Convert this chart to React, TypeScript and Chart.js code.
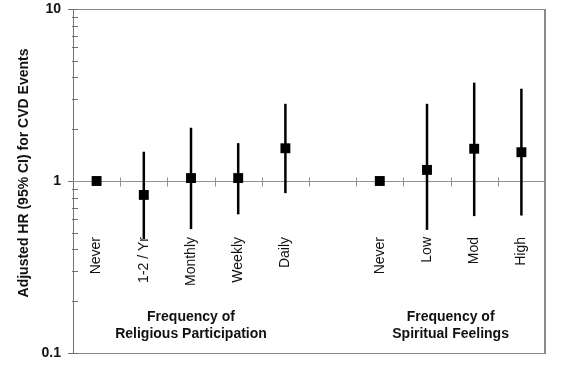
import React, { useEffect, useRef } from "react";
import { Chart, registerables } from "chart.js";

Chart.register(...registerables);

const categories = ["Never", "1-2 / Yr", "Monthly", "Weekly", "Daily", "", "Never", "Low", "Mod", "High"];
const hazardRatio = [1.0, 0.83, 1.04, 1.04, 1.55, null, 1.0, 1.16, 1.54, 1.47];
const ciLow = [null, 0.46, 0.525, 0.64, 0.85, null, null, 0.52, 0.625, 0.63];
const ciHigh = [null, 1.48, 2.04, 1.66, 2.81, null, null, 2.81, 3.73, 3.44];
const majorTicks = [0.1, 1, 10];
const groupLabels = [
  ["Frequency of", "Religious Participation"],
  ["Frequency of", "Spiritual Feelings"],
];
const groupCenters = [2, 7.5];
const yTitle = "Adjusted HR (95% CI) for CVD Events";
const referenceValue = 1;

const FONT = "'Liberation Sans', Arial, sans-serif";

const decorPlugin = {
  id: "decor",
  beforeDatasetsDraw(chart: any) {
    const { ctx, chartArea } = chart;
    const x = chart.scales.x;
    const y = chart.scales.y;
    const { left, right, top, bottom } = chartArea;
    ctx.save();
    // frame
    ctx.strokeStyle = "#8a8a8a";
    ctx.lineWidth = 1;
    ctx.beginPath();
    ctx.moveTo(left, top + 0.5);
    ctx.lineTo(right, top + 0.5);
    ctx.moveTo(left, bottom + 0.5);
    ctx.lineTo(right, bottom + 0.5);
    ctx.stroke();
    ctx.lineWidth = 2;
    ctx.beginPath();
    ctx.moveTo(right, top);
    ctx.lineTo(right, bottom + 1);
    ctx.stroke();
    // left axis
    ctx.strokeStyle = "#707070";
    ctx.lineWidth = 1;
    ctx.beginPath();
    ctx.moveTo(left + 0.5, top);
    ctx.lineTo(left + 0.5, bottom + 1);
    ctx.stroke();
    // y ticks (major + minor)
    for (let d = 0.1; d < 10; d *= 10) {
      for (let m = 1; m <= 10; m++) {
        const v = d * m;
        const py = Math.round(y.getPixelForValue(v)) + 0.5;
        const isMajor = majorTicks.some((t) => Math.abs(t - v) < 1e-9);
        ctx.beginPath();
        ctx.moveTo(left - (isMajor ? 5 : 1), py);
        ctx.lineTo(left + 5, py);
        ctx.stroke();
      }
    }
    // reference line
    const ry = Math.round(y.getPixelForValue(referenceValue)) + 0.5;
    ctx.strokeStyle = "#909090";
    ctx.beginPath();
    ctx.moveTo(left, ry);
    ctx.lineTo(right, ry);
    ctx.stroke();
    // tick marks on reference line at category boundaries
    for (let i = 0; i < categories.length - 1; i++) {
      const bx = Math.round((x.getPixelForValue(i) + x.getPixelForValue(i + 1)) / 2) + 0.5;
      ctx.beginPath();
      ctx.moveTo(bx, ry - 4);
      ctx.lineTo(bx, ry + 5);
      ctx.stroke();
    }
    // error bars
    ctx.strokeStyle = "#000";
    ctx.lineWidth = 2.5;
    for (let i = 0; i < categories.length; i++) {
      const lo = ciLow[i];
      const hi = ciHigh[i];
      if (lo == null || hi == null) continue;
      const px = x.getPixelForValue(i);
      ctx.beginPath();
      ctx.moveTo(px, y.getPixelForValue(lo));
      ctx.lineTo(px, y.getPixelForValue(hi));
      ctx.stroke();
    }
    ctx.restore();
  },
  afterDraw(chart: any) {
    const { ctx, chartArea } = chart;
    const x = chart.scales.x;
    ctx.save();
    ctx.fillStyle = "#111";
    // category labels
    ctx.font = `14px ${FONT}`;
    categories.forEach((c, i) => {
      if (!c) return;
      const px = x.getPixelForValue(i);
      ctx.save();
      ctx.translate(px, chartArea.top + 228);
      ctx.rotate(-Math.PI / 2);
      ctx.textAlign = "right";
      ctx.textBaseline = "middle";
      ctx.fillText(c, 0, 0);
      ctx.restore();
    });
    // group labels
    ctx.font = `bold 14px ${FONT}`;
    ctx.textAlign = "center";
    ctx.textBaseline = "middle";
    groupLabels.forEach((lines, g) => {
      const c = groupCenters[g];
      const lo = Math.floor(c);
      const hi = Math.ceil(c);
      const px = (x.getPixelForValue(lo) + x.getPixelForValue(hi)) / 2;
      lines.forEach((line, k) => {
        ctx.fillText(line, px, chartArea.top + 308 + k * 17);
      });
    });
    // y title
    ctx.save();
    ctx.translate(24, chartArea.top + 164);
    ctx.rotate(-Math.PI / 2);
    ctx.textAlign = "center";
    ctx.textBaseline = "middle";
    ctx.fillText(yTitle, 0, 0);
    ctx.restore();
    ctx.restore();
  },
};

export default function App() {
  const ref = useRef<HTMLCanvasElement | null>(null);
  useEffect(() => {
    if (!ref.current) return;
    const chart = new Chart(ref.current, {
      type: "line",
      data: {
        labels: categories,
        datasets: [
          {
            data: hazardRatio as any,
            showLine: false,
            pointStyle: "rect",
            pointRadius: 7,
            pointBackgroundColor: "#000",
            pointBorderColor: "#000",
            pointBorderWidth: 0,
          },
        ],
      },
      options: {
        animation: false,
        responsive: false,
        maintainAspectRatio: false,
        layout: { padding: { left: 0, top: 9, right: 17, bottom: 15 } },
        plugins: { legend: { display: false }, tooltip: { enabled: false } },
        scales: {
          x: {
            type: "category",
            offset: true,
            display: false,
          },
          y: {
            type: "logarithmic",
            min: 0.1,
            max: 10,
            afterFit: (scale: any) => {
              scale.width = 73;
              scale.paddingTop = 0;
              scale.paddingBottom = 0;
            },
            afterBuildTicks: (scale: any) => {
              scale.ticks = majorTicks.map((v) => ({ value: v }));
            },
            grid: { display: false, drawTicks: false },
            border: { display: false },
            ticks: {
              padding: 12,
              color: "#111",
              font: { family: FONT, size: 14, weight: "bold" },
              callback: (v: any) => String(v),
            },
          },
        },
      },
      plugins: [decorPlugin],
    });
    return () => chart.destroy();
  }, []);
  return (
    <div style={{ position: "fixed", left: 0, top: 0, width: 562, height: 368, background: "#fff" }}>
      <canvas ref={ref} width={562} height={368} style={{ display: "block" }} />
    </div>
  );
}
